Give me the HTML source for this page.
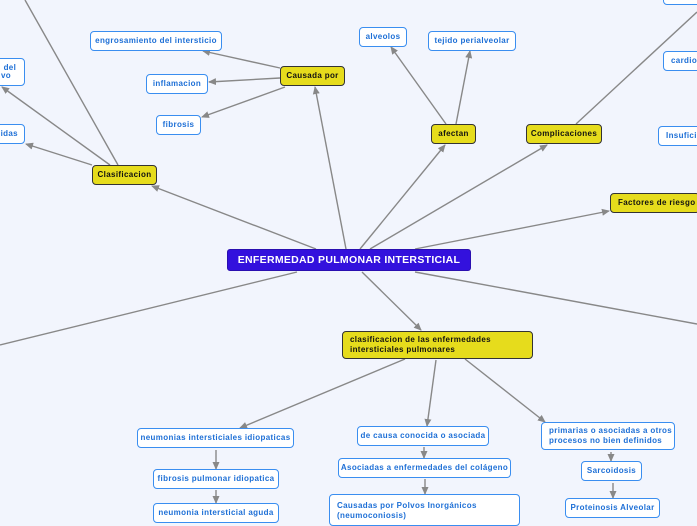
<!DOCTYPE html>
<html><head><meta charset="utf-8"><style>
body{margin:0;width:697px;height:520px;overflow:hidden;background:#f2f5fd;position:relative;font-family:"Liberation Sans","DejaVu Sans",sans-serif}
.b{position:absolute;box-sizing:border-box;border:1.5px solid #3a8ef0;border-radius:4px;background:#fff;color:#1d6fd6;font-size:8px;letter-spacing:0.35px;font-weight:bold;display:flex;align-items:center;padding:0 7px;white-space:nowrap;line-height:10px}
.c{justify-content:center}
.y{background:#e6dc1c;border:1.2px solid #333;color:#111;border-radius:4px;justify-content:center}
svg{position:absolute;left:0;top:0}
</style></head><body>
<svg width="697" height="520">
<defs><marker id="a" markerWidth="8" markerHeight="8" refX="7" refY="4" orient="auto" markerUnits="userSpaceOnUse"><path d="M0,0.5 L8,4 L0,7.5z" fill="#888"/></marker></defs>
<g stroke="#888" stroke-width="1.4" fill="none">
<line x1="297" y1="272" x2="0" y2="345"/>
<line x1="415" y1="272" x2="697" y2="324"/>
<line x1="118" y1="165" x2="25" y2="0"/>
<line x1="576" y1="124" x2="697" y2="12"/>
<line x1="316" y1="249" x2="152" y2="186" marker-end="url(#a)"/>
<line x1="346" y1="249" x2="315" y2="87" marker-end="url(#a)"/>
<line x1="360" y1="249" x2="445" y2="145" marker-end="url(#a)"/>
<line x1="370" y1="249" x2="547" y2="145" marker-end="url(#a)"/>
<line x1="415" y1="249" x2="609" y2="211" marker-end="url(#a)"/>
<line x1="362" y1="272" x2="421" y2="330" marker-end="url(#a)"/>
<line x1="280" y1="68" x2="203" y2="51" marker-end="url(#a)"/>
<line x1="280" y1="78" x2="209" y2="82" marker-end="url(#a)"/>
<line x1="285" y1="87" x2="202" y2="117" marker-end="url(#a)"/>
<line x1="110" y1="165" x2="2" y2="87" marker-end="url(#a)"/>
<line x1="92" y1="165" x2="26" y2="144" marker-end="url(#a)"/>
<line x1="446" y1="124" x2="391" y2="47" marker-end="url(#a)"/>
<line x1="456" y1="124" x2="470" y2="51" marker-end="url(#a)"/>
<line x1="405" y1="359" x2="240" y2="428" marker-end="url(#a)"/>
<line x1="436" y1="360" x2="427" y2="426" marker-end="url(#a)"/>
<line x1="465" y1="359" x2="545" y2="422" marker-end="url(#a)"/>
<line x1="216" y1="450" x2="216" y2="469" marker-end="url(#a)"/>
<line x1="216" y1="490" x2="216" y2="503" marker-end="url(#a)"/>
<line x1="424" y1="447" x2="424" y2="458" marker-end="url(#a)"/>
<line x1="425" y1="479" x2="425" y2="494" marker-end="url(#a)"/>
<line x1="611" y1="452" x2="611" y2="461" marker-end="url(#a)"/>
<line x1="613" y1="483" x2="613" y2="498" marker-end="url(#a)"/>
</g></svg>
<div class="b c" style="left:227px;top:249px;width:244px;height:22px;background:#3311dd;border:1px solid #2a0fb0;color:#fff;font-size:10.5px;letter-spacing:0.3px;border-radius:3px">ENFERMEDAD PULMONAR INTERSTICIAL</div>
<div class="b y" style="left:280px;top:66px;width:65px;height:20px">Causada por</div>
<div class="b c" style="left:90px;top:31px;width:132px;height:20px">engrosamiento del intersticio</div>
<div class="b c" style="left:146px;top:74px;width:62px;height:20px">inflamacion</div>
<div class="b c" style="left:156px;top:115px;width:45px;height:20px">fibrosis</div>
<div class="b y" style="left:92px;top:165px;width:65px;height:20px">Clasificacion</div>
<div class="b" style="left:-40px;top:58px;width:65px;height:28px;padding:0 0 0 40px;line-height:8px"><span>&nbsp;del<br>vo</span></div>
<div class="b" style="left:-40px;top:124px;width:65px;height:20px;justify-content:flex-end;padding-right:6px">idas</div>
<div class="b c" style="left:359px;top:27px;width:48px;height:20px">alveolos</div>
<div class="b c" style="left:428px;top:31px;width:88px;height:20px">tejido perialveolar</div>
<div class="b y" style="left:431px;top:124px;width:45px;height:20px">afectan</div>
<div class="b y" style="left:526px;top:124px;width:76px;height:20px">Complicaciones</div>
<div class="b" style="left:663px;top:-15px;width:60px;height:20px"></div>
<div class="b" style="left:663px;top:51px;width:60px;height:20px">cardio</div>
<div class="b" style="left:658px;top:126px;width:60px;height:20px">Insufici</div>
<div class="b y" style="left:610px;top:193px;width:90px;height:20px;justify-content:flex-start;padding-left:7px">Factores de riesgo</div>
<div class="b y" style="left:342px;top:331px;width:191px;height:28px;justify-content:flex-start">clasificacion de las enfermedades<br>intersticiales pulmonares</div>
<div class="b c" style="left:137px;top:428px;width:157px;height:20px">neumonias intersticiales idiopaticas</div>
<div class="b c" style="left:153px;top:469px;width:126px;height:20px">fibrosis pulmonar idiopatica</div>
<div class="b c" style="left:153px;top:503px;width:126px;height:20px">neumonia intersticial aguda</div>
<div class="b c" style="left:357px;top:426px;width:132px;height:20px">de causa conocida o asociada</div>
<div class="b c" style="left:338px;top:458px;width:173px;height:20px">Asociadas a enfermedades del colágeno</div>
<div class="b" style="left:329px;top:494px;width:191px;height:32px;align-items:flex-start;padding-top:6px">Causadas por Polvos Inorgánicos<br>(neumoconiosis)</div>
<div class="b" style="left:541px;top:422px;width:134px;height:28px">primarias o asociadas a otros<br>procesos no bien definidos</div>
<div class="b c" style="left:581px;top:461px;width:61px;height:20px">Sarcoidosis</div>
<div class="b c" style="left:565px;top:498px;width:95px;height:20px">Proteinosis Alveolar</div>
</body></html>
